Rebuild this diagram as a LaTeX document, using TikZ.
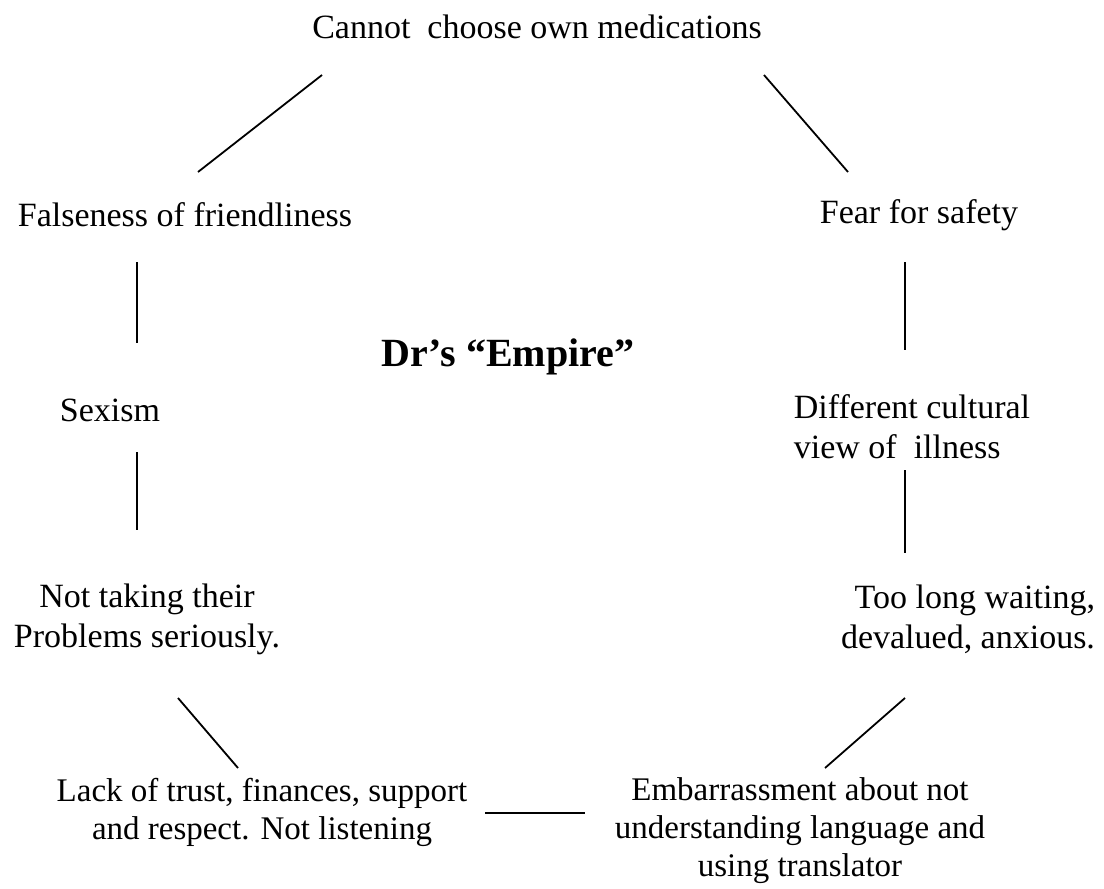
\documentclass[tikz,border=0pt]{standalone}
\usepackage{fontspec}
\setmainfont{Liberation Serif}
\begin{document}
\begin{tikzpicture}[
  x=1pt, y=-1pt,
  lbl/.style={inner sep=0pt, font=\fontsize{34}{40}\selectfont, align=center},
  hub/.style={inner sep=0pt, font=\fontsize{40}{46}\selectfont\bfseries},
  link/.style={line width=1.8pt, black}
]
  \useasboundingbox (0,0) rectangle (1104,889);

  % === centre ===
  \node[hub] (dr) at (508,357) {Dr's ``Empire''};

  % === ring of labels ===
  \node[lbl] (meds) at (537,27) {Cannot\ \ choose own medications};
  \node[lbl] (false) at (185,215) {Falseness of friendliness};
  \node[lbl] (fear) at (919,215) {Fear for safety};
  \node[lbl] (sex) at (110,410) {Sexism};
  \node[lbl, align=left] (cult) at (912,427) {Different cultural\\view of\ \ illness};
  \node[lbl] (notak) at (147,619) {Not taking their\\Problems seriously.};
  \node[lbl, align=right] (wait) at (968,619) {Too long waiting,\\devalued, anxious.};
  \node[lbl, font=\fontsize{33}{38}\selectfont] (trust) at (262,812) {Lack of trust, finances, support\\and respect. Not listening};
  \node[lbl, font=\fontsize{33}{38}\selectfont] (embar) at (800,831) {Embarrassment about not\\understanding language and\\using translator};

  % line ends
  \coordinate (a1) at (322,75);  \coordinate (a2) at (198,172);
  \coordinate (b1) at (764,75);  \coordinate (b2) at (848,172);
  \coordinate (c1) at (137,262); \coordinate (c2) at (137,343);
  \coordinate (d1) at (905,262); \coordinate (d2) at (905,350);
  \coordinate (e1) at (137,452); \coordinate (e2) at (137,530);
  \coordinate (f1) at (905,470); \coordinate (f2) at (905,553);
  \coordinate (g1) at (178,698); \coordinate (g2) at (238,768);
  \coordinate (h1) at (905,698); \coordinate (h2) at (825,768);
  \coordinate (k1) at (485,813); \coordinate (k2) at (585,813);

  % === connectors ===
  \draw[link] (a1) -- (a2);
  \draw[link] (b1) -- (b2);
  \draw[link] (c1) -- (c2);
  \draw[link] (d1) -- (d2);
  \draw[link] (e1) -- (e2);
  \draw[link] (f1) -- (f2);
  \draw[link] (g1) -- (g2);
  \draw[link] (h1) -- (h2);
  \draw[link] (k1) -- (k2);
\end{tikzpicture}
\end{document}
